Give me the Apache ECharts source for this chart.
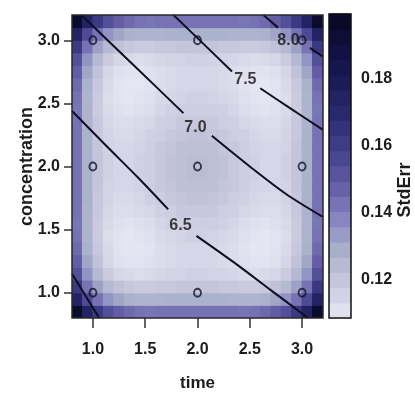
<!DOCTYPE html>
<html><head><meta charset="utf-8">
<script src="https://cdn.jsdelivr.net/npm/echarts@6/dist/echarts.min.js"></script>
<style>html,body{margin:0;padding:0;background:#fff}#chart{width:415px;height:406px}</style>
</head><body><div id="chart"></div>
<script>
// grid cell centres (time = x, concentration = y)
const timeCells = [0.85,0.95,1.05,1.15,1.25,1.35,1.45,1.55,1.65,1.75,1.85,1.95,2.05,2.15,2.25,2.35,2.45,2.55,2.65,2.75,2.85,2.95,3.05,3.15];
const concCells = [0.85,0.95,1.05,1.15,1.25,1.35,1.45,1.55,1.65,1.75,1.85,1.95,2.05,2.15,2.25,2.35,2.45,2.55,2.65,2.75,2.85,2.95,3.05,3.15];
// StdErr per cell, rows from concentration 0.85 (bottom) to 3.15 (top)
const seErr = [
[0.195,0.174,0.162,0.153,0.148,0.145,0.143,0.142,0.143,0.143,0.143,0.143,0.143,0.143,0.143,0.143,0.142,0.143,0.145,0.148,0.153,0.162,0.174,0.195],
[0.174,0.155,0.143,0.135,0.131,0.128,0.127,0.127,0.127,0.128,0.128,0.128,0.128,0.128,0.128,0.127,0.127,0.127,0.128,0.131,0.135,0.143,0.155,0.174],
[0.162,0.143,0.132,0.125,0.121,0.119,0.118,0.118,0.119,0.119,0.120,0.120,0.120,0.120,0.119,0.119,0.118,0.118,0.119,0.121,0.125,0.132,0.143,0.162],
[0.153,0.135,0.125,0.118,0.114,0.113,0.112,0.113,0.114,0.115,0.115,0.116,0.116,0.115,0.115,0.114,0.113,0.112,0.113,0.114,0.118,0.125,0.135,0.153],
[0.148,0.131,0.121,0.114,0.111,0.110,0.110,0.111,0.112,0.113,0.114,0.114,0.114,0.114,0.113,0.112,0.111,0.110,0.110,0.111,0.114,0.121,0.131,0.148],
[0.145,0.128,0.119,0.113,0.110,0.109,0.109,0.110,0.112,0.113,0.114,0.114,0.114,0.114,0.113,0.112,0.110,0.109,0.109,0.110,0.113,0.119,0.128,0.145],
[0.143,0.127,0.118,0.112,0.110,0.109,0.110,0.111,0.113,0.114,0.115,0.116,0.116,0.115,0.114,0.113,0.111,0.110,0.109,0.110,0.112,0.118,0.127,0.143],
[0.142,0.127,0.118,0.113,0.111,0.110,0.111,0.112,0.114,0.116,0.117,0.117,0.117,0.117,0.116,0.114,0.112,0.111,0.110,0.111,0.113,0.118,0.127,0.142],
[0.143,0.127,0.119,0.114,0.112,0.112,0.113,0.114,0.116,0.117,0.119,0.119,0.119,0.119,0.117,0.116,0.114,0.113,0.112,0.112,0.114,0.119,0.127,0.143],
[0.143,0.128,0.119,0.115,0.113,0.113,0.114,0.116,0.117,0.119,0.120,0.121,0.121,0.120,0.119,0.117,0.116,0.114,0.113,0.113,0.115,0.119,0.128,0.143],
[0.143,0.128,0.120,0.115,0.114,0.114,0.115,0.117,0.119,0.120,0.122,0.122,0.122,0.122,0.120,0.119,0.117,0.115,0.114,0.114,0.115,0.120,0.128,0.143],
[0.143,0.128,0.120,0.116,0.114,0.114,0.116,0.117,0.119,0.121,0.122,0.123,0.123,0.122,0.121,0.119,0.117,0.116,0.114,0.114,0.116,0.120,0.128,0.143],
[0.143,0.128,0.120,0.116,0.114,0.114,0.116,0.117,0.119,0.121,0.122,0.123,0.123,0.122,0.121,0.119,0.117,0.116,0.114,0.114,0.116,0.120,0.128,0.143],
[0.143,0.128,0.120,0.115,0.114,0.114,0.115,0.117,0.119,0.120,0.122,0.122,0.122,0.122,0.120,0.119,0.117,0.115,0.114,0.114,0.115,0.120,0.128,0.143],
[0.143,0.128,0.119,0.115,0.113,0.113,0.114,0.116,0.117,0.119,0.120,0.121,0.121,0.120,0.119,0.117,0.116,0.114,0.113,0.113,0.115,0.119,0.128,0.143],
[0.143,0.127,0.119,0.114,0.112,0.112,0.113,0.114,0.116,0.117,0.119,0.119,0.119,0.119,0.117,0.116,0.114,0.113,0.112,0.112,0.114,0.119,0.127,0.143],
[0.142,0.127,0.118,0.113,0.111,0.110,0.111,0.112,0.114,0.116,0.117,0.117,0.117,0.117,0.116,0.114,0.112,0.111,0.110,0.111,0.113,0.118,0.127,0.142],
[0.143,0.127,0.118,0.112,0.110,0.109,0.110,0.111,0.113,0.114,0.115,0.116,0.116,0.115,0.114,0.113,0.111,0.110,0.109,0.110,0.112,0.118,0.127,0.143],
[0.145,0.128,0.119,0.113,0.110,0.109,0.109,0.110,0.112,0.113,0.114,0.114,0.114,0.114,0.113,0.112,0.110,0.109,0.109,0.110,0.113,0.119,0.128,0.145],
[0.148,0.131,0.121,0.114,0.111,0.110,0.110,0.111,0.112,0.113,0.114,0.114,0.114,0.114,0.113,0.112,0.111,0.110,0.110,0.111,0.114,0.121,0.131,0.148],
[0.153,0.135,0.125,0.118,0.114,0.113,0.112,0.113,0.114,0.115,0.115,0.116,0.116,0.115,0.115,0.114,0.113,0.112,0.113,0.114,0.118,0.125,0.135,0.153],
[0.162,0.143,0.132,0.125,0.121,0.119,0.118,0.118,0.119,0.119,0.120,0.120,0.120,0.120,0.119,0.119,0.118,0.118,0.119,0.121,0.125,0.132,0.143,0.162],
[0.174,0.155,0.143,0.135,0.131,0.128,0.127,0.127,0.127,0.128,0.128,0.128,0.128,0.128,0.128,0.127,0.127,0.127,0.128,0.131,0.135,0.143,0.155,0.174],
[0.195,0.174,0.162,0.153,0.148,0.145,0.143,0.142,0.143,0.143,0.143,0.143,0.143,0.143,0.143,0.143,0.142,0.143,0.145,0.148,0.153,0.162,0.174,0.195]
];
const timeTicks = [1.0, 1.5, 2.0, 2.5, 3.0];
const concTicks = [1.0, 1.5, 2.0, 2.5, 3.0];
const seTicks = [0.12, 0.14, 0.16, 0.18];
const axisMin = 0.8, axisMax = 3.2;
const seMin = 0.1085, seMax = 0.1992;
// design points
const designTime = [1, 1, 1, 2, 2, 2, 3, 3, 3];
const designConc = [1, 2, 3, 1, 2, 3, 1, 2, 3];
// contour lines (segments, broken where the label sits)
const contour60 = [[[0.8, 1.15], [1.06, 0.8]]];
const contour65 = [[[0.8, 2.44], [1.12, 2.17], [1.44, 1.905], [1.72, 1.66]],
                   [[1.99, 1.45], [2.39, 1.215], [2.71, 1.015], [3.0, 0.836], [3.06, 0.8]]];
const contour70 = [[[0.89, 3.2], [1.38, 2.81], [1.865, 2.423]],
                   [[2.137, 2.243], [2.5, 2.0], [2.85, 1.78], [3.2, 1.60]]];
const contour75 = [[[1.77, 3.2], [2.04, 2.985], [2.33, 2.752]],
                   [[2.60, 2.62], [2.87, 2.47], [3.2, 2.29]]];
const contour80 = [[[2.63, 3.2], [2.77, 3.10]],
                   [[3.075, 2.94], [3.2, 2.87]]];
const contourLabels = ['6.5', '7.0', '7.5', '8.0'];
const contourLabelTime = [1.837, 1.98, 2.458, 2.87];
const contourLabelConc = [1.53, 2.306, 2.692, 3.0];
// colour key bands
const seBreaks = [0.1085,0.1130,0.1176,0.1221,0.1266,0.1312,0.1357,0.1403,0.1448,0.1493,0.1539,0.1584,0.1629,0.1675,0.1720,0.1766,0.1811,0.1856,0.1902,0.1947,0.1992];
const palette = ['#e8e7f3','#c9c8de','#a9b0ca','#8583bf','#615aa3','#42408c','#2b2a70','#1b1b58','#101042','#08081e'];

const F = "'Liberation Sans',Arial,sans-serif";
const TXT = '#1c1c1c';

const cells = [];
for (let r = 0; r < concCells.length; r++) {
  for (let c = 0; c < timeCells.length; c++) {
    cells.push([timeCells[c], concCells[r], seErr[r][c]]);
  }
}
const halfW = (timeCells[1] - timeCells[0]) / 2;
const halfH = (concCells[1] - concCells[0]) / 2;

const keyBands = [];
for (let i = 0; i < seBreaks.length - 1; i++) {
  keyBands.push([0.5, seBreaks[i], (seBreaks[i] + seBreaks[i + 1]) / 2, seBreaks[i + 1]]);
}

const series = [];
series.push({
  type: 'custom', xAxisIndex: 0, yAxisIndex: 0, data: cells, clip: true, silent: true,
  encode: { x: 0, y: 1 },
  renderItem: function (params, api) {
    const x = api.value(0), y = api.value(1);
    const p0 = api.coord([x - halfW, y + halfH]);
    const p1 = api.coord([x + halfW, y - halfH]);
    return { type: 'rect', shape: { x: p0[0] - 0.5, y: p0[1] - 0.5, width: p1[0] - p0[0] + 1, height: p1[1] - p0[1] + 1 },
      style: { fill: api.visual('color') } };
  }
});
[contour60, contour65, contour70, contour75, contour80].forEach(function (segs) {
  segs.forEach(function (seg) {
    series.push({ type: 'line', xAxisIndex: 0, yAxisIndex: 0, data: seg, showSymbol: false, symbol: 'none', silent: true,
      clip: true, smooth: 0.3, lineStyle: { color: '#0e0e20', width: 2 }, z: 3 });
  });
});
series.push({
  type: 'scatter', xAxisIndex: 0, yAxisIndex: 0, silent: true, z: 4,
  data: contourLabels.map(function (t, i) { return [contourLabelTime[i], contourLabelConc[i], t]; }),
  symbol: 'circle', symbolSize: 1, itemStyle: { color: 'rgba(0,0,0,0)' },
  label: { show: true, position: 'inside', formatter: function (p) { return p.value[2]; },
    fontFamily: F, fontSize: 16, fontWeight: 'bold', color: '#111' }
});
series.push({
  type: 'scatter', xAxisIndex: 0, yAxisIndex: 0, silent: true, z: 5,
  data: designTime.map(function (t, i) { return [t, designConc[i]]; }),
  symbol: 'circle', symbolSize: [7, 8],
  itemStyle: { color: 'rgba(0,0,0,0)', borderColor: '#14142a', borderWidth: 2 }
});
const keySeriesIndex = series.length;
series.push({
  type: 'custom', xAxisIndex: 1, yAxisIndex: 1, data: keyBands, silent: true,
  encode: { x: 0, y: 1 },
  renderItem: function (params, api) {
    const p0 = api.coord([0, api.value(3)]);
    const p1 = api.coord([1, api.value(1)]);
    return { type: 'rect', shape: { x: p0[0], y: p0[1] - 0.5, width: p1[0] - p0[0], height: p1[1] - p0[1] + 1 },
      style: { fill: api.visual('color') } };
  }
});

const chart = echarts.init(document.getElementById('chart'), null, { renderer: 'canvas' });
chart.setOption({
  animation: false,
  backgroundColor: '#fff',
  grid: [
    { left: 72, top: 15, width: 251, height: 303, show: true, z: 10, backgroundColor: 'rgba(0,0,0,0)',
      borderColor: '#2a2a2a', borderWidth: 1.5, outerBoundsMode: 'none', containLabel: false },
    { left: 329, top: 14, width: 22, height: 304, show: true, z: 10, backgroundColor: 'rgba(0,0,0,0)',
      borderColor: '#111', borderWidth: 1.5, outerBoundsMode: 'none', containLabel: false }
  ],
  visualMap: {
    type: 'continuous', show: false, min: seMin, max: seMax, dimension: 2,
    seriesIndex: [0, keySeriesIndex], inRange: { color: palette }
  },
  xAxis: [
    { gridIndex: 0, type: 'value', min: axisMin, max: axisMax, position: 'bottom',
      axisLine: { show: false }, splitLine: { show: false },
      axisTick: { show: true, inside: false, length: 10, customValues: timeTicks, lineStyle: { color: '#333', width: 1.5 } },
      axisLabel: { customValues: timeTicks, formatter: function (v) { return v.toFixed(1); }, margin: 24,
        fontFamily: F, fontSize: 16, fontWeight: 'bold', color: TXT },
      name: 'time', nameLocation: 'middle', nameGap: 57, nameMoveOverlap: false,
      nameTextStyle: { fontFamily: F, fontSize: 17, fontWeight: 'bold', color: TXT } },
    { gridIndex: 1, type: 'value', min: 0, max: 1, show: false }
  ],
  yAxis: [
    { gridIndex: 0, type: 'value', min: axisMin, max: axisMax, position: 'left',
      axisLine: { show: false }, splitLine: { show: false },
      axisTick: { show: true, inside: false, length: 8, customValues: concTicks, lineStyle: { color: '#333', width: 1.5 } },
      axisLabel: { customValues: concTicks, formatter: function (v) { return v.toFixed(1); }, margin: 12,
        fontFamily: F, fontSize: 16, fontWeight: 'bold', color: TXT },
      name: 'concentration', nameLocation: 'middle', nameRotate: 90, nameGap: 36, nameMoveOverlap: false,
      nameTextStyle: { fontFamily: F, fontSize: 18, fontWeight: 'bold', color: TXT } },
    { gridIndex: 1, type: 'value', min: seMin, max: seMax, position: 'right',
      axisLine: { show: false }, splitLine: { show: false },
      axisTick: { show: true, inside: false, length: 7, customValues: seTicks, lineStyle: { color: '#222', width: 1.5 } },
      axisLabel: { customValues: seTicks, formatter: function (v) { return v.toFixed(2); }, margin: 10,
        fontFamily: F, fontSize: 16, fontWeight: 'bold', color: TXT } }
  ],
  graphic: [
    { type: 'text', x: 405, y: 190, rotation: Math.PI / 2, silent: true,
      style: { text: 'StdErr', font: "bold 18px 'Liberation Sans',Arial,sans-serif", fill: TXT,
        align: 'center', verticalAlign: 'middle', textAlign: 'center', textVerticalAlign: 'middle' } }
  ],
  series: series
});
</script>
</body></html>
